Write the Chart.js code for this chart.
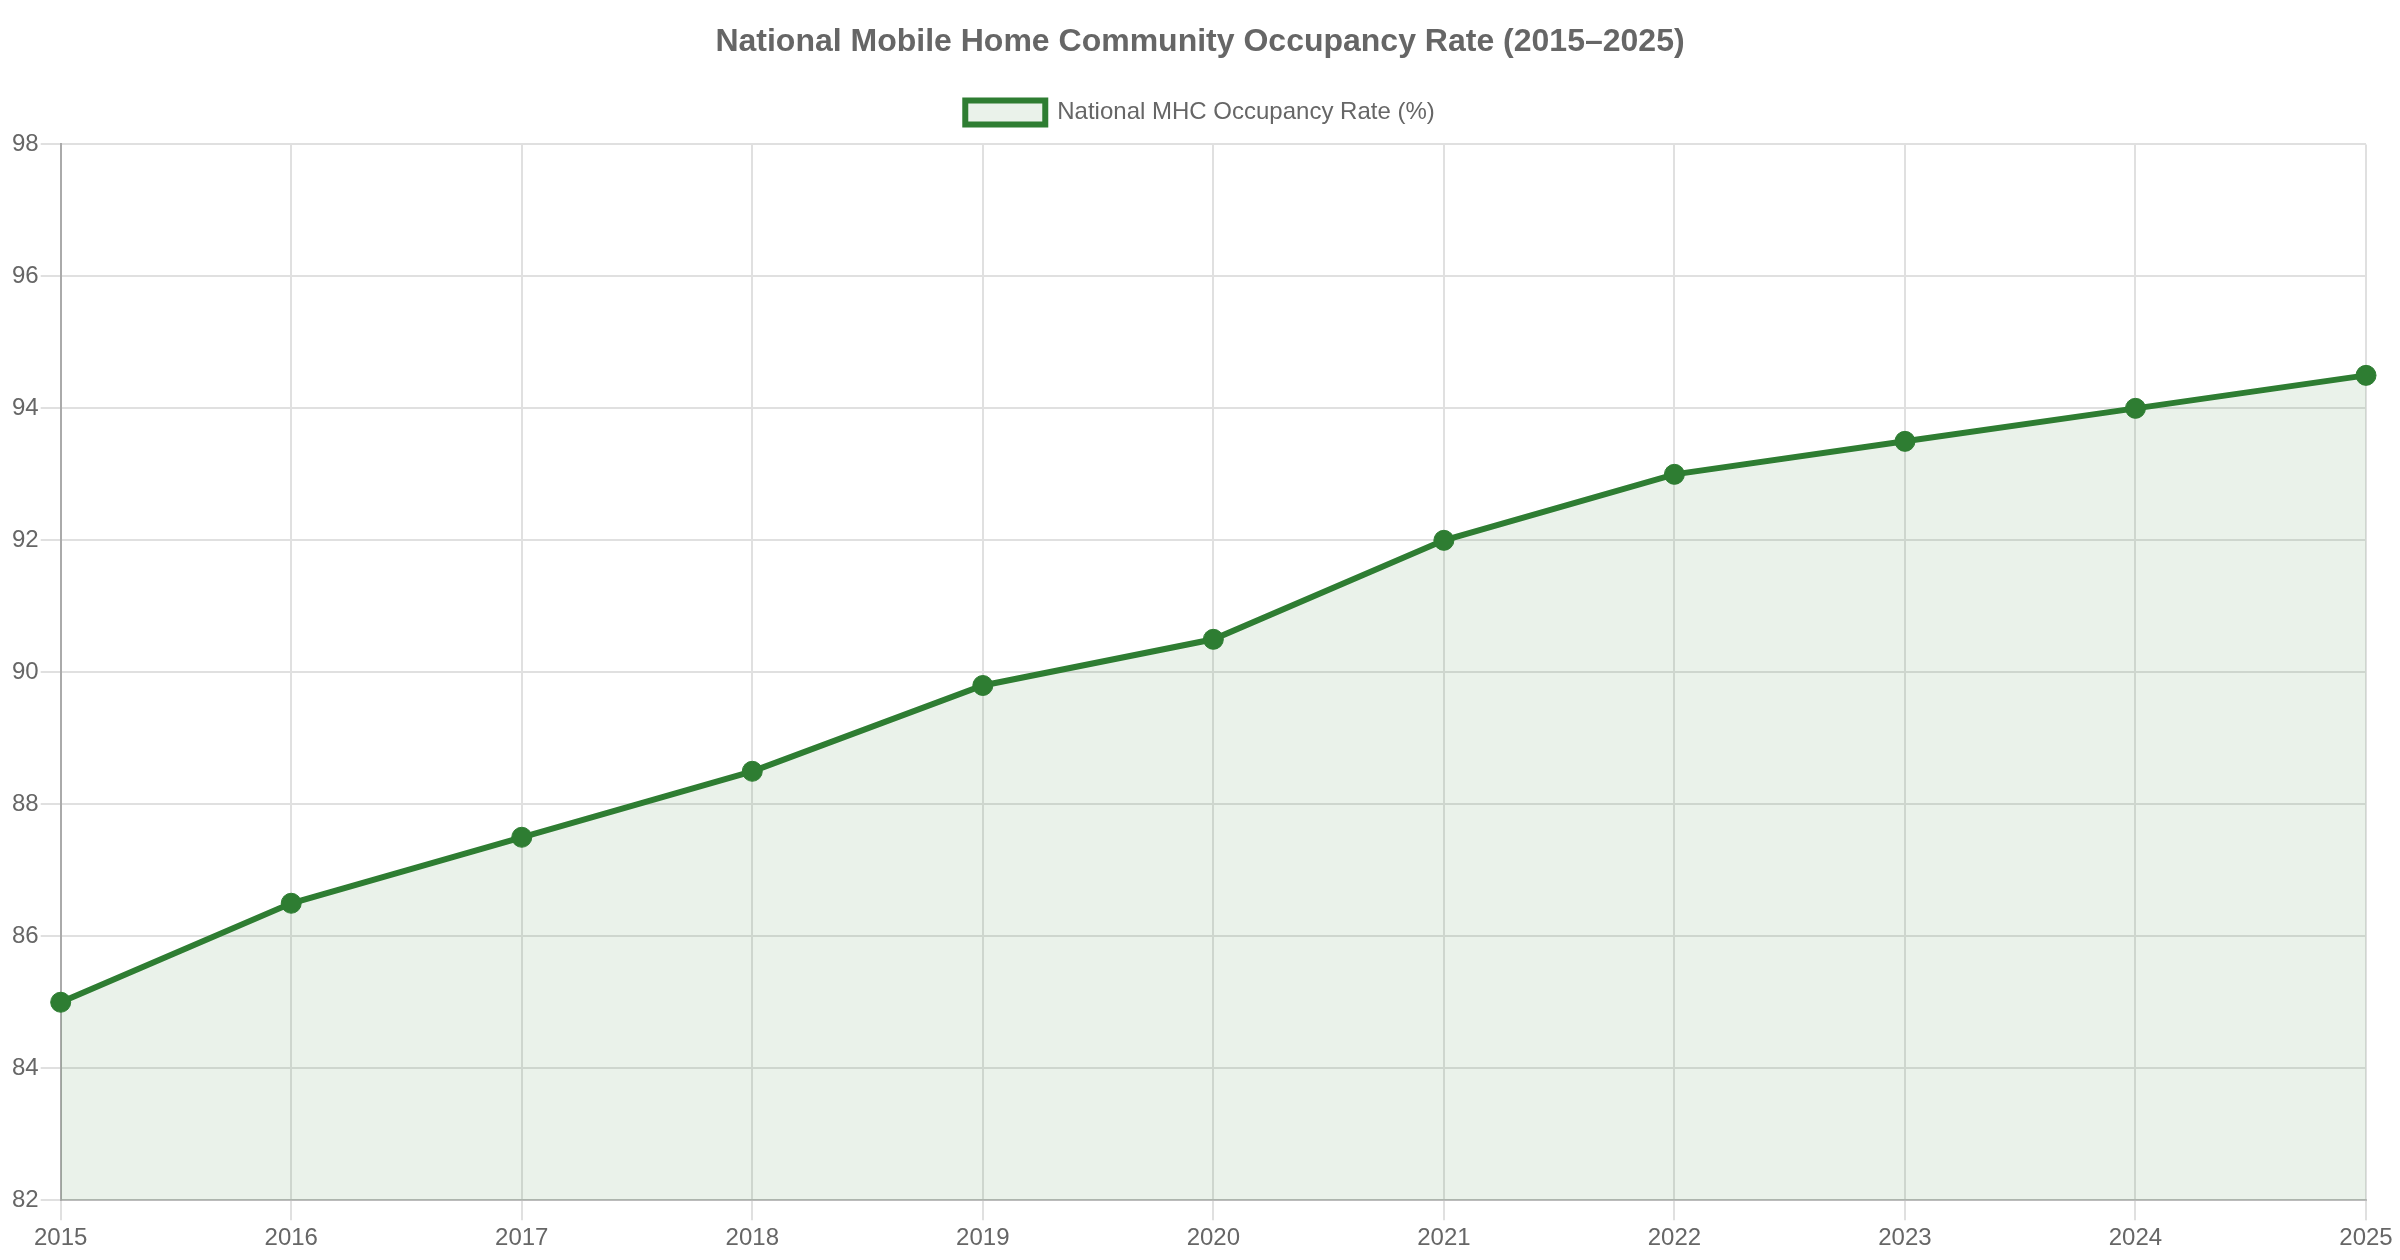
<!DOCTYPE html>
<html>
<head>
<meta charset="utf-8">
<script src="https://cdn.jsdelivr.net/npm/chart.js@4/dist/chart.umd.min.js"></script>
<style>
html,body{margin:0;padding:0;background:#fff;}
#wrap{width:2400px;height:1260px;}
</style>
</head>
<body>
<div id="wrap"><canvas id="c" width="2400" height="1260"></canvas></div>
<script>
const years = ['2015','2016','2017','2018','2019','2020','2021','2022','2023','2024','2025'];
const occupancy = [85, 86.5, 87.5, 88.5, 89.8, 90.5, 92, 93, 93.5, 94, 94.5];
const seriesLabel = 'National MHC Occupancy Rate (%)';
const chartTitle = 'National Mobile Home Community Occupancy Rate (2015\u20132025)';

Chart.defaults.font.family = '"Liberation Sans", Arial, sans-serif';
Chart.defaults.color = '#666';

const legendMargin = {
  id: 'legendMargin',
  beforeInit(chart) {
    const lg = chart.legend;
    if (!lg) return;
    const origFit = lg.fit;
    lg.fit = function () {
      origFit.call(this);
      this.height += 10;
    };
  }
};

new Chart(document.getElementById('c'), {
  type: 'line',
  data: {
    labels: years,
    datasets: [{
      label: seriesLabel,
      data: occupancy,
      borderColor: '#2e7d32',
      backgroundColor: 'rgba(46,125,50,0.1)',
      fill: true,
      borderWidth: 6,
      pointRadius: 10,
      pointBackgroundColor: '#2e7d32',
      pointBorderColor: '#2e7d32',
      pointBorderWidth: 1,
      tension: 0
    }]
  },
  plugins: [legendMargin],
  options: {
    responsive: false,
    animation: false,
    devicePixelRatio: 1,
    layout: { padding: { left: 10, right: 10, top: 10, bottom: 3 } },
    plugins: {
      title: {
        display: true,
        text: chartTitle,
        font: { size: 32, weight: 'bold' },
        color: '#666',
        padding: { top: 13, bottom: 14 }
      },
      legend: {
        display: true,
        labels: {
          font: { size: 24 },
          boxWidth: 80,
          boxHeight: 24,
          padding: 25
        }
      },
      tooltip: { enabled: false }
    },
    scales: {
      x: {
        grid: { color: '#e0e0e0', lineWidth: 2, tickLength: 20 },
        border: { color: '#bbb', width: 2 },
        ticks: { font: { size: 24 }, maxRotation: 0, padding: 4 },
        afterFit(scale) { scale.paddingRight = 34; }
      },
      y: {
        min: 82,
        max: 98,
        grid: { color: '#e0e0e0', lineWidth: 2, tickLength: 20 },
        border: { color: '#aaa', width: 2 },
        ticks: { font: { size: 24 }, stepSize: 2, padding: 2 }
      }
    }
  }
});
</script>
</body>
</html>
